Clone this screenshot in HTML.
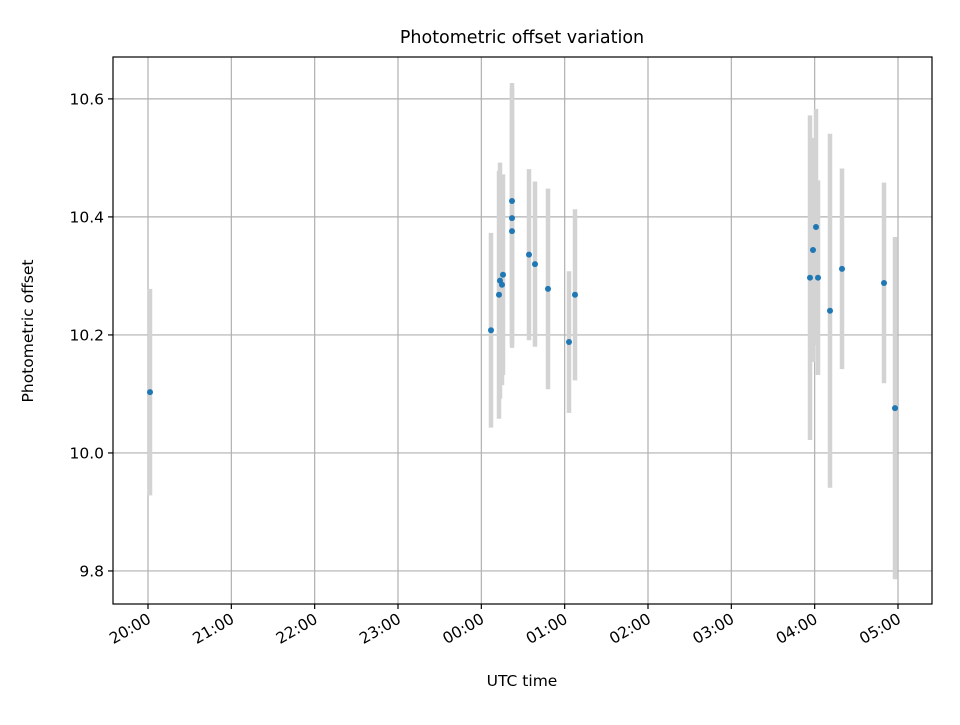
<!DOCTYPE html>
<html><head><meta charset="utf-8"><style>
body{margin:0;background:#fff}
svg{font-family:"DejaVu Sans","Liberation Sans",sans-serif}
</style></head><body>
<svg id="chart" width="960" height="720" viewBox="0 0 960 720">
<rect width="960" height="720" fill="#fff"/>
<text x="522" y="43" text-anchor="middle" font-size="17.5">Photometric offset variation</text>
<g id="grid"></g><g id="bars"></g><g id="pts"></g><g id="axes"></g>
<text x="522" y="686" text-anchor="middle" font-size="15.5">UTC time</text>
<text transform="translate(33,331) rotate(-90)" text-anchor="middle" font-size="15.5">Photometric offset</text>
</svg>
<script>
// hours after 20:00
const times=[0.024,4.116,4.212,4.224,4.248,4.26,4.368,4.368,4.368,4.572,4.644,4.80,5.052,5.124,7.944,7.98,8.016,8.04,8.184,8.328,8.832,8.964];
const values=[10.103,10.208,10.268,10.292,10.285,10.302,10.427,10.398,10.376,10.336,10.320,10.278,10.188,10.268,10.297,10.344,10.383,10.297,10.241,10.312,10.288,10.076];
const errors=[0.175,0.165,0.21,0.20,0.17,0.17,0.20,0.22,0.19,0.145,0.14,0.17,0.12,0.145,0.275,0.19,0.2,0.165,0.3,0.17,0.17,0.29];
const xTickLabels=["20:00","21:00","22:00","23:00","00:00","01:00","02:00","03:00","04:00","05:00"];
const yTicks=[9.8,10.0,10.2,10.4,10.6];
const L=113,R=932,T=57,B=604;
const xMin=-0.42,xMax=9.408,yMin=9.744,yMax=10.671;
const X=h=>L+(h-xMin)/(xMax-xMin)*(R-L);
const Y=v=>B-(v-yMin)/(yMax-yMin)*(B-T);
const NS="http://www.w3.org/2000/svg";
function mk(tag,attrs,parent,text){const e=document.createElementNS(NS,tag);for(const k in attrs)e.setAttribute(k,attrs[k]);if(text!==undefined)e.textContent=text;document.getElementById(parent).appendChild(e);return e;}
xTickLabels.forEach((lab,i)=>{const x=X(i);
 const g=mk('line',{x1:x,x2:x,y1:T,y2:B,stroke:'#b0b0b0','stroke-width':1.2},'grid');
 
 
 const t=mk('line',{x1:x,x2:x,y1:B,y2:B+5,stroke:'#000','stroke-width':1.2},'axes');
 
 
 const tx=mk('text',{x:x+4,y:B+18,'font-size':15.5,'text-anchor':'end',transform:`rotate(-30 ${x+4} ${B+18})`},'axes',lab);
 
 
});
yTicks.forEach(v=>{const y=Y(v);
 const g=mk('line',{x1:L,x2:R,y1:y,y2:y,stroke:'#b0b0b0','stroke-width':1.2},'grid');
 
 
 const t=mk('line',{x1:L-5,x2:L,y1:y,y2:y,stroke:'#000','stroke-width':1.2},'axes');
 
 
 const tx=mk('text',{x:L-9,y:y+5.5,'font-size':15.5,'text-anchor':'end'},'axes',v.toFixed(1));
 
 
});
times.forEach((h,i)=>{const x=X(h);
 const b=mk('line',{x1:x,x2:x,y1:Y(values[i]+errors[i]),y2:Y(values[i]-errors[i]),stroke:'#d3d3d3','stroke-width':4.5},'bars');
 
 
 const p=mk('circle',{cx:x,cy:Y(values[i]),r:3,fill:'#1f77b4'},'pts');
 
 
});
const f=mk('rect',{x:L,y:T,width:R-L,height:B-T,fill:'none',stroke:'#000','stroke-width':1.2},'axes');


</script>
</body></html>
